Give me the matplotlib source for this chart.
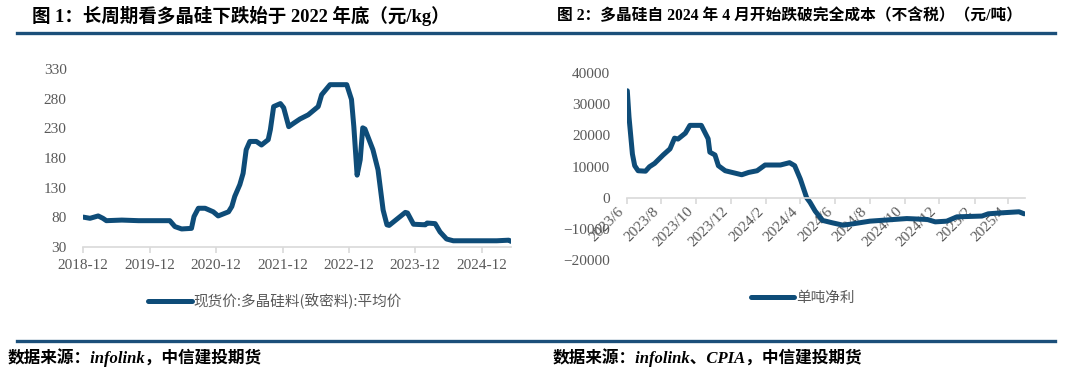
import matplotlib
matplotlib.use('Agg')
import matplotlib.pyplot as plt
import matplotlib.dates as mdates
from matplotlib.lines import Line2D
import pandas as pd

# left panel: polysilicon spot price (yuan/kg)
dates_1 = ['2018-12-01', '2019-01-07', '2019-02-21', '2019-03-19', '2019-04-07', '2019-07-01',
           '2019-10-01', '2020-01-01', '2020-03-21', '2020-04-18', '2020-05-25', '2020-07-18',
           '2020-08-01', '2020-08-25', '2020-10-01', '2020-11-15', '2020-12-12', '2021-02-07',
           '2021-02-25', '2021-03-13', '2021-04-10', '2021-04-28', '2021-05-15', '2021-06-04',
           '2021-07-10', '2021-08-07', '2021-09-13', '2021-09-25', '2021-10-13', '2021-11-19',
           '2021-12-07', '2022-01-04', '2022-02-01', '2022-03-07', '2022-04-21', '2022-06-15',
           '2022-07-04', '2022-08-19', '2022-11-19', '2022-12-15', '2022-12-28', '2023-01-15',
           '2023-02-01', '2023-02-15', '2023-02-27', '2023-04-12', '2023-05-10', '2023-06-07',
           '2023-06-28', '2023-07-10', '2023-10-07', '2023-10-19', '2023-11-21', '2024-01-25',
           '2024-02-04', '2024-03-19', '2024-04-15', '2024-05-21', '2024-06-27', '2025-02-21',
           '2025-04-28', '2025-05-10']
price_1 = [80, 78, 82, 78, 74, 75,
           74, 74, 74, 64, 60, 61,
           81, 95, 95, 89, 82, 89,
           98, 115, 135, 154, 194, 208,
           208, 202, 211, 228, 267, 272,
           265, 233, 239, 246, 253, 267,
           287, 304, 304, 279, 233, 151,
           177, 231, 229, 194, 160, 92,
           67, 66, 88, 87, 68, 67,
           70, 69, 55, 43, 40, 40,
           41, 39]
yticks_1 = [30, 80, 130, 180, 230, 280, 330]

# right panel: net profit per ton (yuan/ton)
dates_2 = ['2023-06-02', '2023-06-05', '2023-06-11', '2023-06-15', '2023-06-21', '2023-07-04',
           '2023-07-11', '2023-07-20', '2023-08-04', '2023-08-16', '2023-08-24', '2023-08-30',
           '2023-09-12', '2023-09-20', '2023-10-10', '2023-10-22', '2023-10-25', '2023-11-03',
           '2023-11-09', '2023-11-21', '2023-12-20', '2024-01-01', '2024-01-16', '2024-01-30',
           '2024-02-26', '2024-03-13', '2024-03-22', '2024-04-01', '2024-04-12', '2024-04-18',
           '2024-04-27', '2024-05-10', '2024-05-28', '2024-06-15', '2024-07-02', '2024-08-01',
           '2024-09-12', '2024-10-05', '2024-11-10', '2024-11-24', '2024-12-14', '2025-01-01',
           '2025-02-14', '2025-02-25', '2025-03-22', '2025-04-20', '2025-04-29']
profit_2 = [34300, 25900, 14000, 10260, 8640, 8500,
            9930, 11000, 13700, 15660, 19100, 18800,
            20700, 23200, 23200, 18900, 14600, 13700,
            10260, 8640, 7350, 8090, 8640, 10480,
            10480, 11230, 10260, 5950, 0, -1500,
            -4300, -7300, -8100, -8830, -8400, -7540,
            -7000, -6700, -7000, -7760, -7540, -6150,
            -5900, -5180, -4850, -4530, -5180]
xticks_2 = ['2023-06-01', '2023-08-01', '2023-10-01', '2023-12-01', '2024-02-01', '2024-04-01',
            '2024-06-01', '2024-08-01', '2024-10-01', '2024-12-01', '2025-02-01', '2025-04-01']
xlabels_2 = ['2023/6', '2023/8', '2023/10', '2023/12', '2024/2', '2024/4',
             '2024/6', '2024/8', '2024/10', '2024/12', '2025/2', '2025/4']
yticks_2 = [-20000, -10000, 0, 10000, 20000, 30000, 40000]

LINE = '#0E4C78'
RULE = '#1B4F7A'
GRAY = '#595959'
AXIS = '#D9D9D9'
SERIF = ['Liberation Serif', 'Noto Sans CJK SC']
SANS = ['Noto Sans CJK SC', 'DejaVu Sans']

plt.rcParams['font.family'] = SERIF

fig = plt.figure(figsize=(10.8, 3.74), dpi=100)

# left chart
ax1 = fig.add_axes([0.0771, 0.3404, 0.396, 0.4743])
d1 = pd.to_datetime(dates_1)
ax1.plot(d1, price_1, color=LINE, linewidth=3.6, solid_capstyle='round', solid_joinstyle='round')
ax1.set_xlim(pd.Timestamp('2018-12-01'), pd.Timestamp('2025-05-10'))
ax1.set_ylim(30, 330)
ax1.set_yticks(yticks_1)
ax1.xaxis.set_major_locator(mdates.MonthLocator(bymonth=12))
ax1.xaxis.set_major_formatter(mdates.DateFormatter('%Y-%m'))

# right chart
ax2 = fig.add_axes([0.5803, 0.3048, 0.369, 0.500])
d2 = pd.to_datetime(dates_2)
ax2.plot(d2, profit_2, color=LINE, linewidth=3.6, solid_capstyle='round', solid_joinstyle='round')
ax2.spines['bottom'].set_position(('data', 0))
ax2.set_xlim(pd.Timestamp('2023-06-01'), pd.Timestamp('2025-05-01'))
ax2.set_ylim(-20000, 40000)
ax2.set_yticks(yticks_2)
ax2.set_xticks(pd.to_datetime(xticks_2))
ax2.set_xticklabels(xlabels_2)

for ax in (ax1, ax2):
    for s in ('top', 'right', 'left'):
        ax.spines[s].set_visible(False)
    ax.spines['bottom'].set_color(AXIS)
    ax.spines['bottom'].set_linewidth(1.2)
    ax.tick_params(axis='y', length=0, pad=12, labelsize=11, labelcolor=GRAY)
    ax.tick_params(axis='x', length=4, width=1.2, color=AXIS, pad=5, labelsize=11, labelcolor=GRAY)
    ax.patch.set_alpha(0)

ax2.tick_params(axis='x', labelrotation=45, pad=1)
for lbl in ax2.get_xticklabels():
    lbl.set_ha('right')
    lbl.set_va('top')

# legends
h = [Line2D([], [], color=LINE, linewidth=3.6, solid_capstyle='round')]
fig.legend(h, ['现货价:多晶硅料(致密料):平均价'], loc='center', bbox_to_anchor=(0.2546, 0.195),
           frameon=False, handlelength=3.0, handletextpad=0.1,
           prop={'family': SANS, 'size': 10.5}, labelcolor=GRAY)
fig.legend(h, ['单吨净利'], loc='center', bbox_to_anchor=(0.743, 0.203),
           frameon=False, handlelength=3.0, handletextpad=0.1,
           prop={'family': SANS, 'size': 10.5}, labelcolor=GRAY)

# titles, rules and source notes
fig.text(32 / 1080, 1 - 16 / 374, '图 1：长周期看多晶硅下跌始于 2022 年底（元/kg）',
         fontsize=13.3, fontweight='bold', family=SERIF, va='center', ha='left')
fig.text(557 / 1080, 1 - 16 / 374, '图 2：多晶硅自 2024 年 4 月开始跌破完全成本（不含税）（元/吨）',
         fontsize=11.3, fontweight='bold', family=SERIF, va='center', ha='left')
for y in (33, 341):
    fig.add_artist(Line2D([17 / 1080, 1055 / 1080], [1 - y / 374, 1 - y / 374],
                          color=RULE, linewidth=2.4, transform=fig.transFigure))
fig.text(8 / 1080, 1 - 358 / 374, '数据来源：infolink，中信建投期货',
         fontsize=12, fontweight='bold', style='italic', family=SERIF, va='center', ha='left')
fig.text(553 / 1080, 1 - 358 / 374, '数据来源：infolink、CPIA，中信建投期货',
         fontsize=12, fontweight='bold', style='italic', family=SERIF, va='center', ha='left')

fig.savefig('out.png', dpi=100)
